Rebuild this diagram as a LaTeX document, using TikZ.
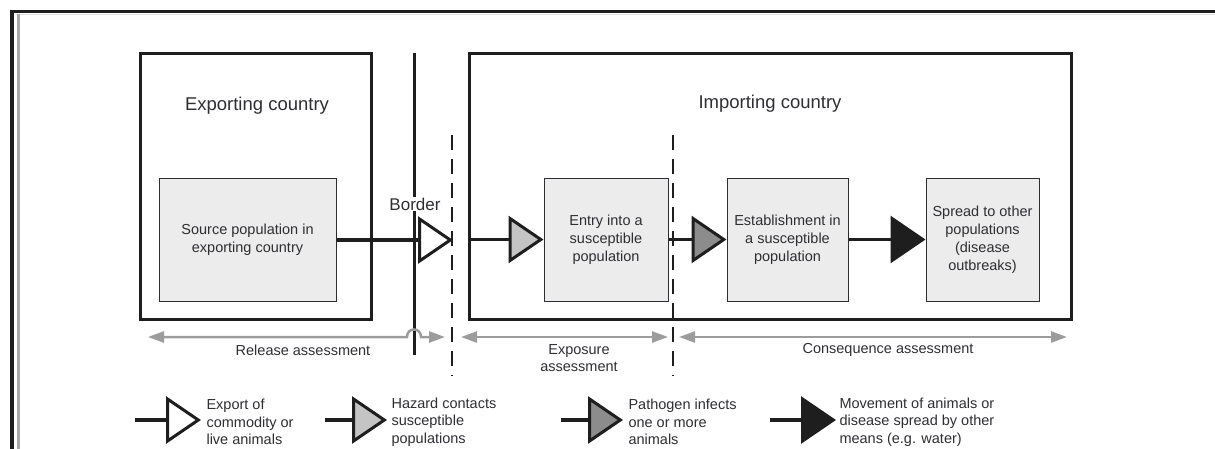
\documentclass[tikz,border=0pt]{standalone}
\usepackage{fontspec}
\setmainfont{Liberation Sans}
\usetikzlibrary{arrows.meta,positioning}

\definecolor{boxfill}{HTML}{ECECEC}
\definecolor{txtcol}{HTML}{2E2E33}
\definecolor{assesscol}{HTML}{9C9C9C}
\definecolor{tipgrey}{HTML}{C4C4C4}
\definecolor{tipdark}{HTML}{8C8C8C}
\definecolor{tipblack}{HTML}{1E1E1E}
\definecolor{framegrey}{HTML}{A8A8A8}

\begin{document}
\begin{tikzpicture}[
                    x=1pt, y=-1pt,
                    font=\fontsize{14.5}{18}\selectfont,
                    text=txtcol,
                    country/.style={draw=tipblack, line width=3pt, inner sep=0pt, minimum height=266pt},
                    popbox/.style={draw=txtcol, fill=boxfill, line width=1pt, align=center, minimum height=123pt, inner sep=2pt},
                    ctitle/.style={font=\fontsize{18.5}{22}\selectfont},
                    legtext/.style={anchor=west, align=left, font=\fontsize{14.5}{17.5}\selectfont},
                    flow/.style={draw=tipblack, line width=3.5pt},
                    exportflow/.style={flow, arrows={-Triangle[length=35pt, width=47pt, line width=3pt, fill=white]}},
                    contactflow/.style={flow, arrows={-Triangle[length=35pt, width=47pt, line width=3pt, fill=tipgrey]}},
                    infectflow/.style={flow, arrows={-Triangle[length=35pt, width=47pt, line width=3pt, fill=tipdark]}},
                    spreadflow/.style={flow, arrows={-Triangle[length=35pt, width=47pt, line width=3pt, fill=tipblack]}},
                    assess/.style={draw=assesscol, line width=2.5pt, arrows={Triangle[length=16pt, width=11pt]-Triangle[length=16pt, width=11pt]}},
                    divider/.style={draw=tipblack, line width=2.8pt, dash pattern=on 15pt off 9pt}
                ]
                \useasboundingbox (0,0) rectangle (1215,448);

                % page frame
                \draw[line width=3pt, tipblack] (10,11) -- (1216,11);
                \draw[line width=1.5pt, black!12] (20,14.5) -- (1216,14.5);
                \draw[line width=3.5pt, tipblack] (12,10) -- (12,449);
                \draw[line width=3pt, framegrey] (18,14) -- (18,449);

                % countries
                \node (expbox) [country, minimum width=231pt] at (255.5,186) {} ;
                \node (impbox) [country, minimum width=602pt] at (770,186) {} ;
                \node (exptitle) [ctitle] at (257,106) {Exporting country} ;
                \node (imptitle) [ctitle] at (770,104) {Importing country} ;

                % populations
                \node (src) [popbox, minimum width=177pt] at (247.5,240) {Source population in\\exporting country} ;
                \node (entry) [popbox, minimum width=124pt] at (606,239.5) {Entry into a\\susceptible\\population} ;
                \node (estab) [popbox, minimum width=121pt] at (787.5,239.5) {Establishment in\\a susceptible\\population} ;
                \node (spread) [popbox, minimum width=113pt] at (982.5,239.5) {Spread to other\\populations\\(disease\\outbreaks)} ;

                % border and stage lines
                \coordinate (bordtop) at (414,53) ;
                \coordinate (bordbot) at (414,355) ;
                \coordinate (exptop) at (452,135) ;
                \coordinate (expbot) at (452,376) ;
                \coordinate (contop) at (673,135) ;
                \coordinate (conbot) at (673,376) ;
                \draw[tipblack, line width=3pt] (bordtop) -- (bordbot) ;
                \draw[divider] (exptop) -- (expbot) ;
                \draw[divider] (contop) -- (conbot) ;
                \node (bordlbl) [fill=white, inner sep=1pt, font=\fontsize{17}{20}\selectfont] at (415,204) {Border} ;

                % pathway
                \coordinate (bordtip) at (453,240) ;
                \coordinate (impin) at (impbox.west |- entry.west) ;
                \path
                (src.east) edge[exportflow] (bordtip)
                (impin) edge[contactflow] (entry.west)
                (entry.east) edge[infectflow] (estab.west)
                (estab.east) edge[spreadflow] (spread.west)
                ;

                % assessments
                \coordinate (rela) at (148,337) ;
                \coordinate (hopa) at (407,337) ;
                \coordinate (hopb) at (421,337) ;
                \coordinate (relb) at (445,337) ;
                \coordinate (expa) at (461,337) ;
                \coordinate (expb) at (668,337) ;
                \coordinate (cona) at (679,337) ;
                \coordinate (conb) at (1067,337) ;
                \draw[assess] (rela) -- (hopa) .. controls (407,327) and (421,327) .. (hopb) -- (relb) ;
                \draw[assess] (expa) -- (expb) ;
                \draw[assess] (cona) -- (conb) ;
                \node (rellbl) at (303,350) {Release assessment} ;
                \node (explbl) [align=center, font=\fontsize{14.5}{17}\selectfont] at (579,358) {Exposure\\assessment} ;
                \node (conlbl) at (888,350) {Consequence assessment} ;

                % legend
                \coordinate (lg1a) at (135,420) ;
                \coordinate (lg1b) at (201,420) ;
                \coordinate (lg2a) at (325,420) ;
                \coordinate (lg2b) at (387,420) ;
                \coordinate (lg3a) at (561,420) ;
                \coordinate (lg3b) at (623,420) ;
                \coordinate (lg4a) at (770,420) ;
                \coordinate (lg4b) at (836,420) ;
                \path
                (lg1a) edge[exportflow] (lg1b)
                (lg2a) edge[contactflow] (lg2b)
                (lg3a) edge[infectflow] (lg3b)
                (lg4a) edge[spreadflow] (lg4b)
                ;
                \node (lg1txt) [legtext] at (203,422) {Export of\\commodity or\\live animals} ;
                \node (lg2txt) [legtext] at (388,422) {Hazard contacts\\susceptible\\populations} ;
                \node (lg3txt) [legtext] at (625,422) {Pathogen infects\\one or more\\animals} ;
                \node (lg4txt) [legtext] at (836,422) {Movement of animals or\\disease spread by other\\means (e.g. water)} ;
            \end{tikzpicture}
\end{document}
